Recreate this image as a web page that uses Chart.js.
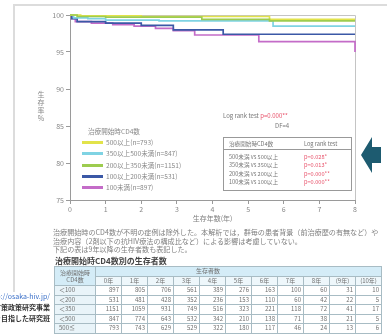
<!DOCTYPE html>
<html><head><meta charset="utf-8">
<script src="https://cdn.jsdelivr.net/npm/chart.js@4.4.1/dist/chart.umd.min.js"></script>
<style>
html,body{margin:0;padding:0;background:#fff;}
#page{position:relative;width:387px;height:334px;overflow:hidden;background:#fff;font-family:"Noto Sans CJK JP","Noto Sans",sans-serif;color:#777;}
.abs{position:absolute;white-space:nowrap;}
#frameTop{left:13px;top:4px;width:380px;height:2px;background:#dcdcdc;}
#frameLeft{left:13px;top:4px;width:2px;height:288px;background:#dcdcdc;}
#c{position:absolute;left:20px;top:5px;}
#ytitle{left:36px;top:91px;writing-mode:vertical-rl;text-orientation:upright;font-size:7px;line-height:9px;letter-spacing:1px;color:#888;}
#legend{left:82px;top:126px;font-size:6.6px;color:#888;}
#legend .t{margin-left:6px;height:11px;line-height:11px;}
#legend .r{height:11.3px;line-height:11.3px;display:flex;align-items:center;}
#legend .sw{display:inline-block;width:21px;height:3px;margin-right:3px;}
.red{color:#e8546c;}
#lr{left:223px;top:111px;font-size:6px;line-height:10px;color:#777;}
#df{left:275px;top:121px;font-size:6px;line-height:10px;color:#777;}
#box{left:223px;top:137px;width:127px;height:52px;border:1px solid #999;font-size:5.6px;color:#777;}
#box .h{position:absolute;top:2px;height:9px;line-height:9px;}
#box .line{position:absolute;left:0;top:11px;width:127px;height:1px;background:#999;}
#box .row{position:absolute;height:8px;line-height:8px;}
#para{left:53px;top:228px;font-size:7.1px;line-height:8.6px;color:#808080;}
#ttitle{left:55px;top:256px;font-size:8px;font-weight:bold;color:#444;line-height:10px;}
#tbl{position:absolute;left:54px;top:266px;border-collapse:collapse;font-size:6px;color:#707070;table-layout:fixed;}
#tbl td{border:1px solid #a8bcc4;padding:0 2px;height:8.5px;line-height:8.5px;overflow:hidden;}
#tbl td.n{text-align:right;}
#tbl td.yr{text-align:center;background:#eef7fb;}
#tbl td.lab{background:#e9f4f9;padding-left:4px;}
#tbl td.hd{background:#d4ecf7;}
#other{left:0;top:291px;width:50px;height:33px;overflow:hidden;font-size:7px;line-height:10px;}
#other div{position:absolute;right:0;white-space:nowrap;}
</style></head>
<body>
<div id="page">
  <div class="abs" id="frameTop"></div>
  <div class="abs" id="frameLeft"></div>
  <canvas id="c" width="345" height="218"></canvas>
  <div class="abs" id="ytitle">生存率%</div>
  <div class="abs" id="legend"></div>
  <div class="abs" id="lr">Log rank test&nbsp;<span class="red">p=0.000**</span></div>
  <div class="abs" id="df">DF=4</div>
  <div class="abs" id="box"></div>
  <svg class="abs" style="left:0;top:0" width="387" height="334"><polygon points="361,155 372,137 372,147 381,147 381,163 372,163 372,173" fill="#1d5b70"/></svg>
  <div class="abs" id="para">治療開始時のCD4数が不明の症例は除外した。本解析では，群毎の患者背景（前治療歴の有無など）や<br>治療内容（2剤以下の抗HIV療法の構成比など）による影響は考慮していない。<br>下記の表は9年以降の生存者数も表記した。</div>
  <div class="abs" id="ttitle">治療開始時CD4数別の生存者数</div>
  <table id="tbl"></table>
  <div class="abs" id="other"><div style="top:0;color:#3a6fc8">http://osaka-hiv.jp/</div><div style="top:11px;color:#333;font-weight:bold">エイズ対策政策研究事業</div><div style="top:22px;color:#333;font-weight:bold">の確立を目指した研究班</div></div>
</div>
<script>
// ---- survival curve data (years, survival %) ----
const groupLabels = ['500以上(n=793)', '350以上500未満(n=847)', '200以上350未満(n=1151)', '100以上200未満(n=531)', '100未満(n=897)'];
const groupColors = ['#e2e34a', '#7fd3e3', '#9dcc4f', '#3b58a6', '#c46cc8'];
const yearsGe500 = [0, 0.3, 2.0, 5.6, 8];
const survGe500 = [100, 99.9, 99.8, 99.4, 99.4];
const years350to500 = [0, 0.1, 0.5, 1.0, 2.5, 5.7, 8];
const surv350to500 = [100, 99.6, 99.5, 99.3, 99.2, 98.5, 98.5];
const years200to350 = [0, 0.2, 1.0, 3.7, 5.6, 8];
const surv200to350 = [100, 99.8, 99.7, 99.4, 99.2, 99.2];
const years100to200 = [0, 0.05, 0.2, 1.0, 2.0, 2.9, 4.3, 8];
const surv100to200 = [100, 99.5, 99.1, 98.9, 98.6, 98.0, 97.4, 97.4];
const yearsLt100 = [0, 0.05, 0.15, 0.6, 1.2, 1.8, 2.4, 2.9, 3.5, 5.3, 8, 8];
const survLt100 = [100, 99.5, 99.1, 98.9, 98.7, 98.5, 98.2, 97.9, 97.3, 96.4, 96.4, 95.0];
const xTicks = [0, 1, 2, 3, 4, 5, 6, 7, 8];
const yTicks = [75, 80, 85, 90, 95, 100];

// ---- log rank tests ----
const lrHeader = ['治療開始時CD4数', 'Log rank test'];
const lrPairs = ['500未満 vs 500以上', '350未満 vs 350以上', '200未満 vs 200以上', '100未満 vs 100以上'];
const lrP = ['p=0.028*', 'p=0.013*', 'p=0.000**', 'p=0.000**'];

// ---- survivors table ----
const tableYears = ['0年', '1年', '2年', '3年', '4年', '5年', '6年', '7年', '8年', '(9年)', '(10年)'];
const tableRows = ['＜100', '＜200', '＜350', '＜500', '500≦'];
const survLt100Counts = [897, 805, 706, 561, 389, 276, 163, 100, 60, 31, 10];
const survLt200Counts = [531, 481, 428, 352, 236, 153, 110, 60, 42, 22, 5];
const survLt350Counts = [1151, 1059, 931, 749, 516, 323, 221, 118, 72, 41, 17];
const survLt500Counts = [847, 774, 643, 532, 342, 210, 138, 71, 38, 21, 5];
const surv500upCounts = [793, 743, 629, 529, 322, 180, 117, 46, 24, 13, 6];

const curveX = [yearsGe500, years350to500, years200to350, years100to200, yearsLt100];
const curveY = [survGe500, surv350to500, surv200to350, surv100to200, survLt100];
const drawOrder = [1, 2, 0, 3, 4];

const datasets = groupLabels.map((lab, i) => ({
  label: lab,
  data: curveX[i].map((x, k) => ({x: x, y: curveY[i][k]})),
  borderColor: groupColors[i],
  borderWidth: 1.7,
  pointRadius: 0,
  stepped: true,
  fill: false,
  clip: 4,
  order: drawOrder[i]
}));

const framePlugin = {
  id: 'frame',
  beforeDatasetsDraw(chart) {
    const {ctx, chartArea: a} = chart;
    ctx.save();
    ctx.strokeStyle = '#c4c4c4';
    ctx.lineWidth = 1;
    ctx.beginPath();
    ctx.moveTo(a.left, a.top + 0.5);
    ctx.lineTo(Math.round(a.right) + 0.5, a.top + 0.5);
    ctx.lineTo(Math.round(a.right) + 0.5, a.bottom);
    ctx.stroke();
    ctx.restore();
  }
};

const font = "'Noto Sans CJK JP', 'Noto Sans', sans-serif";
new Chart(document.getElementById('c'), {
  type: 'line',
  data: {datasets},
  plugins: [framePlugin],
  options: {
    responsive: false,
    animation: false,
    layout: {padding: {top: 10, right: 10, left: 0, bottom: 0}},
    plugins: {legend: {display: false}, tooltip: {enabled: false}},
    scales: {
      x: {
        type: 'linear', min: 0, max: 8,
        afterBuildTicks(s) { s.ticks = xTicks.map(v => ({value: v})); },
        ticks: {color: '#888', font: {size: 7, family: font}, padding: 1},
        grid: {drawOnChartArea: false, tickLength: 4, color: '#9a9a9a'},
        border: {color: '#9a9a9a', width: 1},
        title: {display: true, text: '生存年数(年)', color: '#808080', font: {size: 7, family: font}, padding: {top: 0, bottom: 0}},
        afterFit(s) { s.height = 23; }
      },
      y: {
        min: 75, max: 100,
        afterBuildTicks(s) { s.ticks = yTicks.map(v => ({value: v})); },
        ticks: {color: '#888', font: {size: 7, family: font}, padding: 2},
        grid: {drawOnChartArea: false, tickLength: 4, color: '#9a9a9a'},
        border: {color: '#9a9a9a', width: 1},
        afterFit(s) { s.width = 50; }
      }
    }
  }
});

// legend (HTML)
const lg = document.getElementById('legend');
lg.innerHTML = '<div class="t">治療開始時CD4数</div>' + groupLabels.map((l, i) =>
  '<div class="r"><span class="sw" style="background:' + groupColors[i] + '"></span>' + l + '</div>').join('');

// log-rank box
const box = document.getElementById('box');
let bh = '<div class="h" style="left:5px">' + lrHeader[0] + '</div><div class="h" style="left:80px">' + lrHeader[1] + '</div><div class="line"></div>';
lrPairs.forEach((p, i) => {
  const top = 15 + i * 8.3;
  bh += '<div class="row" style="left:5px;top:' + top + 'px">' + p + '</div>';
  bh += '<div class="row red" style="left:80px;top:' + top + 'px">' + lrP[i] + '</div>';
});
box.innerHTML = bh;

// survivors table
const counts = [survLt100Counts, survLt200Counts, survLt350Counts, survLt500Counts, surv500upCounts];
let th = '<colgroup><col style="width:41px">' + tableYears.map(() => '<col style="width:26px">').join('') + '</colgroup>';
th += '<tr><td class="hd" rowspan="2" style="text-align:center;line-height:7px;padding:1px 0">治療開始時<br>CD4数</td><td class="hd" colspan="11" style="padding-left:100px">生存者数</td></tr>';
th += '<tr>' + tableYears.map(y => '<td class="yr">' + y + '</td>').join('') + '</tr>';
tableRows.forEach((r, i) => {
  th += '<tr><td class="lab">' + r + '</td>' + counts[i].map(v => '<td class="n">' + v + '</td>').join('') + '</tr>';
});
document.getElementById('tbl').innerHTML = th;
</script>
</body></html>
